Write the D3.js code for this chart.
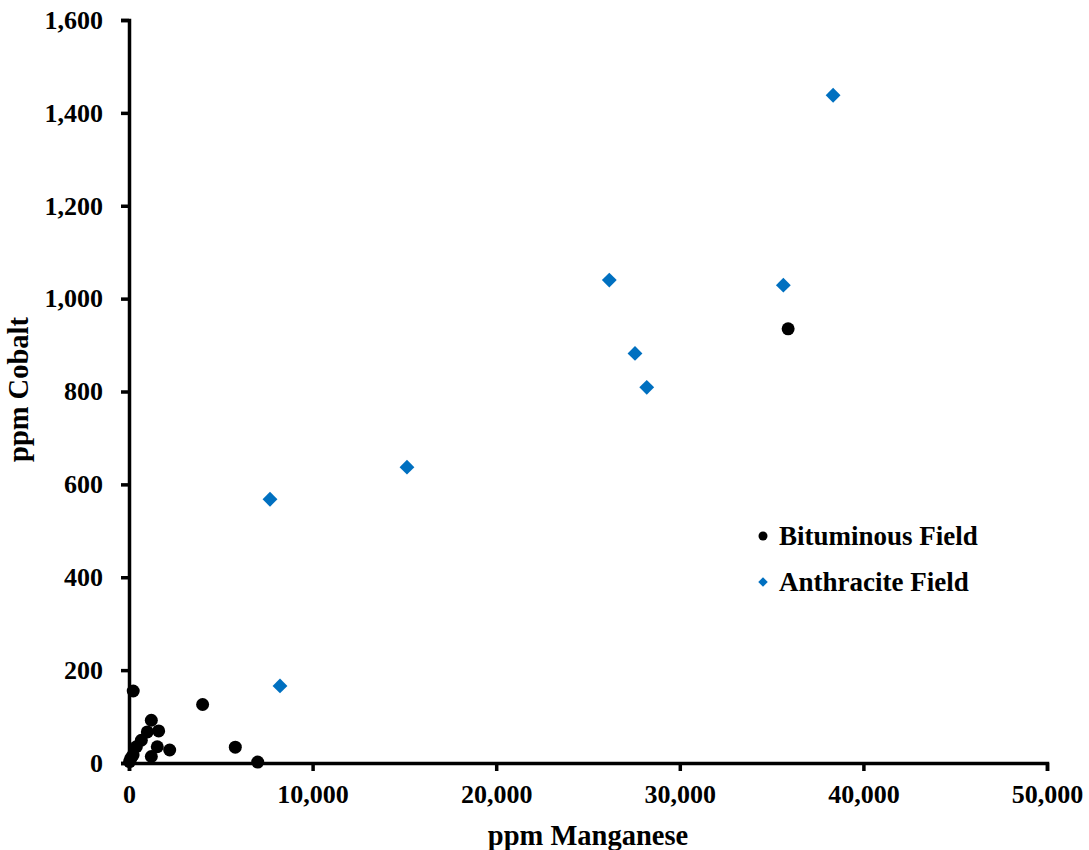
<!DOCTYPE html>
<html>
<head>
<meta charset="utf-8">
<script src="https://cdn.jsdelivr.net/npm/d3@7"></script>
<style>
  body { margin: 0; background: #fff; }
  text { font-family: "Liberation Serif", "Times New Roman", serif; font-weight: bold; }
</style>
</head>
<body>
<script>
// ppm Manganese / ppm Cobalt
const bitMn = [230, 4010, 5790, 7010, 1216, 1616, 997, 671, 400, 1540, 2215, 1216, 100, 30, 220, 35900];
const bitCo = [155, 126, 34, 2, 92, 69, 67, 49, 35, 35, 28, 14, 10, 3, 17, 935];
const anthMn = [38350, 26160, 35640, 27560, 28200, 15140, 7680, 8224];
const anthCo = [1438, 1040, 1029, 882, 809, 637, 568, 166];
const xTicks = [0, 10000, 20000, 30000, 40000, 50000];
const yTicks = [0, 200, 400, 600, 800, 1000, 1200, 1400, 1600];
const legendLabels = ['Bituminous Field', 'Anthracite Field'];

const svgWidth = 1089;
const svgHeight = 850;
const margin = {left: 129, right: 42, top: 20, bottom: 87};
const width = svgWidth - margin.left - margin.right;
const height = svgHeight - margin.top - margin.bottom;
const blue = '#0070c0';

const svg = d3.select('body')
  .append('svg')
  .attr('width', svgWidth)
  .attr('height', svgHeight);

const g = svg.append('g')
  .attr('transform', `translate(${margin.left}, ${margin.top})`);

const x = d3.scaleLinear().domain([0, 50000]).range([0, width]);
const y = d3.scaleLinear().domain([0, 1600]).range([height, 0]);

const fmt = d3.format(',');

const xAxis = g.append('g')
  .attr('transform', `translate(0, ${height})`)
  .call(d3.axisBottom(x).tickValues(xTicks).tickFormat(fmt).tickSize(8).tickPadding(14).tickSizeOuter(8));

const yAxis = g.append('g')
  .call(d3.axisLeft(y).tickValues(yTicks).tickFormat(fmt).tickSize(8).tickPadding(18).tickSizeOuter(8));

[xAxis, yAxis].forEach((ax) => {
  ax.selectAll('path, line').attr('stroke', '#000').attr('stroke-width', 3.5);
  ax.selectAll('text')
    .attr('fill', '#000')
    .style('font-size', '26px')
    .style('font-family', '"Liberation Serif", serif')
    .style('font-weight', 'bold');
});

// axis titles
svg.append('text')
  .attr('x', margin.left + width / 2)
  .attr('y', 845)
  .attr('text-anchor', 'middle')
  .style('font-size', '28.5px')
  .text('ppm Manganese');

svg.append('text')
  .attr('transform', `translate(28, ${margin.top + height / 2 - 2}) rotate(-90)`)
  .attr('text-anchor', 'middle')
  .style('font-size', '28.5px')
  .text('ppm Cobalt');

// points
const bit = bitMn.map((d, i) => ({mn: d, co: bitCo[i]}));
const anth = anthMn.map((d, i) => ({mn: d, co: anthCo[i]}));

const diamond = d3.symbol().type(d3.symbolSquare).size(110);

g.append('g').selectAll('path')
  .data(anth).enter()
  .append('path')
  .attr('d', diamond)
  .attr('transform', (d) => `translate(${x(d.mn)}, ${y(d.co)}) rotate(45)`)
  .attr('fill', blue);

g.append('g').selectAll('circle')
  .data(bit).enter()
  .append('circle')
  .attr('cx', (d) => x(d.mn))
  .attr('cy', (d) => y(d.co))
  .attr('r', 6.5)
  .attr('fill', '#000');

// legend
const legend = svg.append('g').attr('transform', 'translate(763, 536)');
legendLabels.forEach((label, i) => {
  const row = legend.append('g').attr('transform', `translate(0, ${i * 46})`);
  if (i === 0) {
    row.append('circle').attr('r', 4.5).attr('fill', '#000');
  } else {
    row.append('path')
      .attr('d', d3.symbol().type(d3.symbolSquare).size(45))
      .attr('transform', 'rotate(45)')
      .attr('fill', blue);
  }
  row.append('text')
    .attr('x', 16)
    .attr('dy', '0.35em')
    .style('font-size', '27px')
    .text(label);
});
</script>
</body>
</html>
